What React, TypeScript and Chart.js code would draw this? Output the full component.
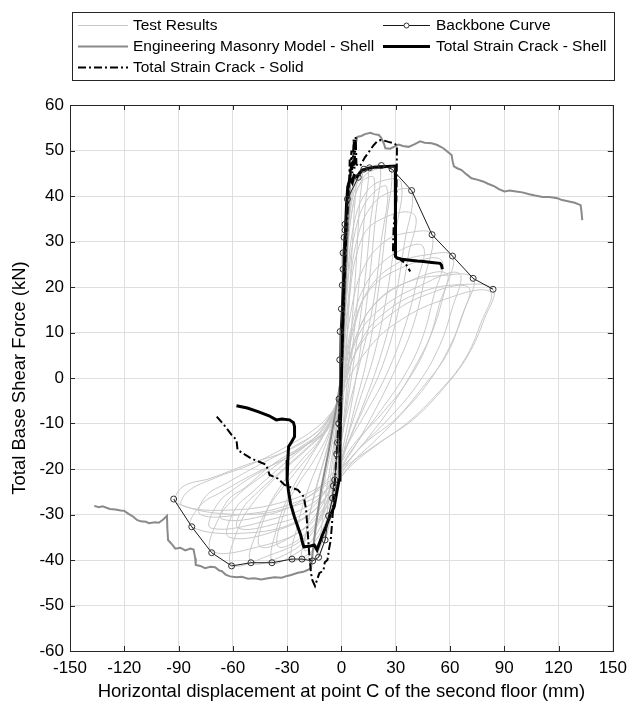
import React, { useEffect, useRef } from "react";
import { Chart, registerables } from "chart.js";

Chart.register(...registerables);

// ---------- axes ----------
const xTickValues = [-150, -120, -90, -60, -30, 0, 30, 60, 90, 120, 150];
const yTickValues = [-60, -50, -40, -30, -20, -10, 0, 10, 20, 30, 40, 50, 60];
const xTitle = "Horizontal displacement at point C of the second floor (mm)";
const yTitle = "Total Base Shear Force (kN)";

const seriesLabels = [
  "Test Results",
  "Backbone Curve",
  "Engineering Masonry Model - Shell",
  "Total Strain Crack - Shell",
  "Total Strain Crack - Solid",
];

// ---------- test results (hysteresis cycles, [x mm, y kN]) ----------
const testCycle01 = [[-1,-6],[0,5],[1,18],[2,30],[3,39],[2.5,30],[1.5,15],[0,0],[-1.5,-12],[-3.5,-22],[-6,-30],[-5,-24],[-3.5,-15],[-2,-6],[0,3]];
const testCycle02 = [[-1,-5],[0,5],[1.5,20],[3,32],[5,40],[8,44],[7,36],[5,22],[3,8],[1,-5],[-2,-18],[-5,-28],[-9,-35.6],[-8,-30],[-6,-22],[-3,-12],[-1,-3],[0.5,6]];
const testCycle03 = [[-1,-4],[0.5,8],[2,24],[4,36],[7,43],[11.5,46],[10,38],[8,24],[5,8],[2,-6],[-2,-20],[-6,-31],[-12.6,-39.4],[-11,-33],[-8,-24],[-4,-14],[-1.5,-5],[0.5,5]];
const testCycle04 = [[-1.5,-6],[0.5,8],[2.5,26],[5,38],[9,44],[14.6,46],[13,37],[10,22],[6,6],[2,-8],[-3,-22],[-8,-33],[-15.9,-40],[-14,-33],[-10,-24],[-5,-14],[-2,-5],[0.5,5]];
const testCycle05 = [[-2,-8],[0,5],[2.5,24],[5,37],[10,44],[15,46],[21.4,46.5],[19,36],[15,20],[10,5],[5,-7],[0,-17],[-5,-27],[-12,-36],[-21.8,-40],[-19,-33],[-14,-24],[-8,-16],[-3,-8],[0,1]];
const testCycle06 = [[-2,-8],[0.5,6],[3,24],[6,37],[12,44],[20,46],[27.4,46],[25,35],[20,18],[14,4],[7,-7],[1,-17],[-5,-28],[-14,-37],[-27.3,-40],[-24,-32],[-18,-24],[-10,-16],[-4,-9],[0,-1]];
const testCycle07 = [[-3,-10],[0,2],[3,20],[7,34],[14,41],[24,43.5],[33,43],[30,32],[25,18],[18,5],[10,-5],[2,-15],[-5,-26],[-15,-35],[-27,-39],[-38.4,-40.5],[-35,-32],[-28,-25],[-18,-18],[-9,-12],[-3,-6],[0,1]];
const testCycle08 = [[-3,-9],[0,1],[4,18],[9,31],[17,38],[28,41],[38.8,41],[35,30],[29,16],[21,4],[12,-6],[3,-15],[-5,-25],[-16,-34],[-32,-39],[-50,-40.5],[-46,-33],[-38,-27],[-26,-21],[-14,-15],[-5,-9],[0,-2]];
const testCycle09 = [[-4,-10],[0,-1],[5,14],[12,24],[24,30],[38,32],[50,31.5],[46,22],[40,12],[31,3],[20,-6],[9,-14],[0,-20],[-8,-28],[-20,-35],[-40,-39],[-60.7,-41],[-57,-33],[-48,-27],[-34,-21],[-20,-16],[-8,-11],[-1,-4]];
const testCycle10 = [[-4,-10],[1,0],[7,12],[16,20],[30,25],[46,27],[61.4,26.8],[57,19],[50,10],[40,2],[28,-6],[15,-13],[3,-19],[-6,-26],[-20,-33],[-45,-37],[-71.7,-38],[-68,-31],[-58,-26],[-42,-21],[-25,-16],[-10,-12],[-2,-5]];
const testCycle11 = [[-5,-11],[1,-1],[9,10],[20,17],[36,21],[55,22.5],[72.8,22],[68,15],[60,7],[48,-1],[33,-8],[18,-14],[5,-19],[-6,-25],[-22,-31],[-50,-34],[-82.7,-32.7],[-78,-28],[-66,-25],[-48,-21],[-28,-17],[-12,-12],[-3,-6]];
const testCycle12 = [[-5,-11],[2,-1],[12,9],[26,15],[45,19],[65,20.5],[83.8,19.5],[79,13],[70,5],[57,-2],[40,-9],[22,-14],[6,-19],[-6,-24],[-25,-28],[-55,-30],[-91,-27.5],[-88,-24],[-72,-22],[-52,-19],[-30,-16],[-14,-12],[-4,-7]];
const testCycle13 = [[-3,-10],[0,0],[3,18],[7,31],[14,39],[25,42],[22,30],[17,15],[10,3],[3,-8],[-3,-18],[-10,-29],[-22,-35],[-35,-37],[-32,-30],[-25,-24],[-15,-18],[-7,-12],[-2,-5]];
const testCycle14 = [[-4,-11],[0,-2],[6,12],[14,21],[28,27],[45,29],[41,20],[34,10],[24,0],[13,-8],[3,-15],[-6,-23],[-18,-29],[-36,-32],[-57,-33],[-55,-29],[-46,-25],[-32,-20],[-18,-15],[-7,-11],[-1,-4]];
const testCycle15 = [[-5,-11],[1,-2],[8,9],[18,16],[36,21],[58,23],[54,16],[47,7],[36,-1],[22,-8],[8,-14],[-3,-20],[-18,-26],[-40,-30],[-66,-31],[-63,-27],[-53,-24],[-38,-19],[-22,-15],[-9,-11],[-2,-5]];
const testCycle16 = [[-5,-11],[1,-2],[10,7],[24,13],[45,18],[70,20],[66,13],[58,5],[45,-2],[30,-9],[14,-14],[2,-19],[-10,-24],[-30,-28],[-55,-30],[-78,-30],[-75,-26],[-63,-23],[-45,-19],[-26,-15],[-11,-11],[-3,-6]];
const testCycle17 = [[-5,-11],[2,-2],[14,6],[30,12],[55,17],[82,19],[77,12],[68,4],[54,-3],[36,-10],[18,-15],[4,-19],[-8,-23],[-30,-27],[-60,-29],[-88,-28],[-85,-25],[-70,-22],[-50,-19],[-30,-15],[-14,-11],[-4,-7]];
const testCycle18 = [[-3,-9],[0,0],[4,16],[9,28],[18,34],[40,36],[37,27],[31,14],[23,3],[13,-6],[4,-14],[-4,-22],[-14,-30],[-28,-35],[-45,-37],[-42,-30],[-34,-24],[-22,-18],[-11,-13],[-4,-7]];
const testCycle19 = [[-4,-10],[1,-1],[7,11],[15,19],[32,24],[55,26],[51,18],[44,8],[34,0],[22,-7],[9,-14],[-1,-20],[-12,-28],[-32,-33],[-62,-35],[-59,-29],[-49,-25],[-35,-20],[-20,-15],[-8,-11],[-2,-5]];
const testCycle20 = [[-5,-11],[1,-2],[9,9],[21,15],[42,20],[65,23],[61,15],[53,6],[41,-2],[26,-9],[11,-15],[0,-20],[-14,-27],[-38,-31],[-72,-33],[-69,-28],[-58,-24],[-42,-20],[-24,-16],[-10,-11],[-3,-6]];
const testCycle21 = [[-2,-7],[0.5,6],[2.5,24],[6,37],[11,43],[18,44],[16,34],[12,18],[7,4],[2,-9],[-3,-21],[-9,-32],[-20,-38],[-18,-31],[-13,-23],[-7,-14],[-2,-6],[0,2]];

const testCycles = [
  testCycle01, testCycle02, testCycle03, testCycle04, testCycle05, testCycle06,
  testCycle07, testCycle08, testCycle09, testCycle10, testCycle11, testCycle12,
  testCycle13, testCycle14, testCycle15, testCycle16, testCycle17, testCycle18,
  testCycle19, testCycle20, testCycle21,
];

// ---------- backbone curve ----------
const backbone = [[-92.7,-26.6],[-82.7,-32.7],[-71.7,-38.4],[-60.7,-41.3],[-50.0,-40.6],[-38.4,-40.6],[-27.3,-39.8],[-21.8,-39.8],[-15.9,-40.2],[-12.6,-39.4],[-9.0,-35.6],[-7.1,-30.3],[-4.9,-26.4],[-4.4,-23.7],[-3.7,-22.4],[-2.6,-16.7],[-2.2,-14.2],[-1.5,-10.0],[-1.3,-4.6],[-0.9,4.0],[-0.7,10.2],[0.0,15.2],[0.5,20.4],[0.9,23.9],[0.9,27.5],[1.5,30.9],[2.0,32.5],[2.0,33.8],[3.3,39.3],[9.3,44.1],[12.4,45.9],[15.5,46.2],[22.1,46.7],[28.0,45.9],[38.8,41.2],[50.1,31.5],[61.4,26.8],[72.8,21.9],[83.8,19.5]];

// ---------- Engineering Masonry Model - Shell ----------
const emmShell = [[-136.6,-28.1],[-134,-28.4],[-132,-28.2],[-128,-28.8],[-124.8,-28.9],[-122,-29.1],[-120,-29.2],[-117.4,-29.9],[-115,-30.5],[-113,-31.2],[-111,-31.5],[-108,-31.6],[-106.4,-31.9],[-103,-31.7],[-100.9,-31.8],[-98.5,-31.1],[-96.4,-30.3],[-96.2,-33],[-95.8,-35.6],[-93.5,-36.6],[-91.8,-37.5],[-89,-37.3],[-86.3,-37.9],[-83.5,-37.5],[-81.7,-37.7],[-80.8,-39.6],[-80.5,-41.1],[-78,-41.3],[-75.3,-41.8],[-72.5,-41.5],[-69.8,-41.6],[-67.5,-42.3],[-66.2,-42.4],[-64,-43.2],[-61.6,-43.6],[-58,-43.8],[-55,-43.7],[-51.6,-44.1],[-48,-44],[-44.3,-44.3],[-40.6,-44],[-37,-43.8],[-33,-43.9],[-30,-43.5],[-27.8,-43.3],[-24,-42.8],[-21,-42.6],[-18.7,-42.2],[-16.8,-41.8],[-15.8,-38],[-14,-32],[-11,-24],[-7,-16],[-3.5,-8],[-1,-2],[0,0],[1,8],[2,18],[3,28],[4,37],[5,44],[6.5,49],[8.8,53],[11,53.2],[13,53.6],[16.1,53.9],[18,53.6],[20.7,53.4],[22,52.8],[23.4,51.6],[24.3,50.5],[27,50.4],[29,50.8],[31.6,51.3],[34,51],[37.1,50.8],[40,51.3],[43.5,52],[46,51.7],[49.9,51.6],[53,51.2],[56.3,50.5],[58.5,49.8],[60.9,49],[61.5,47.6],[62.2,46.5],[64,46.1],[66.4,45.7],[69,44.8],[71.9,43.9],[75,43.6],[78.3,43.2],[81,42.7],[84.6,42.1],[87,41.5],[90.1,41],[93,41.2],[96.5,41],[100,40.8],[103.8,40.4],[107,40.1],[111.2,39.8],[115,39.8],[119.4,39.5],[122,39.1],[125.8,38.8],[129,38.5],[132.2,38],[132.7,36.5],[133.1,34.7]];

// ---------- Total Strain Crack - Shell ----------
const tscShell = [[-58,-6.1],[-52,-6.6],[-46.1,-7.4],[-40,-8.3],[-36,-9.2],[-33,-9],[-28.7,-9.2],[-26.5,-9.8],[-25.9,-10.7],[-25.9,-12.9],[-27.5,-14],[-29.2,-15.1],[-29.6,-18],[-30,-22.4],[-29.2,-25],[-28.1,-27.6],[-26,-30.5],[-24.1,-32.7],[-22.5,-34.5],[-21.5,-36.2],[-20.8,-37.1],[-18,-37],[-15,-36.7],[-13.5,-37.8],[-12.2,-36.4],[-10.5,-34.5],[-8.6,-32.7],[-6.5,-30.5],[-4,-28.3],[-2.5,-25],[-1.3,-22.4],[-0.8,-15],[-0.4,-7.8],[0,-0.4],[0.5,10],[1.2,20],[2,30],[2.8,38],[3.5,42],[4.8,43.9],[6,43],[7,44.5],[8.5,44.2],[10,45],[11.5,45.7],[15,46.1],[18,46.3],[21.6,46.4],[25,46.5],[29.8,46.6],[30,40],[29.9,33],[29.8,26.7],[31,26.3],[33.5,26.1],[38,25.9],[42,25.7],[45.4,25.6],[50,25.4],[54.5,25.2],[55.3,24.8],[55.8,23.9]];

// ---------- Total Strain Crack - Solid ----------
const tscSolid = [[-68.9,-8.5],[-64.5,-10.5],[-60.7,-12.5],[-58,-13.6],[-57.4,-15.8],[-53.5,-16.8],[-49.8,-17.7],[-45.5,-18.4],[-41.5,-19.1],[-39.7,-21.3],[-35.1,-22.1],[-31.4,-23.5],[-27.5,-24.1],[-24.1,-24.6],[-20.8,-26.1],[-19.5,-29],[-18.7,-33.4],[-17.7,-39.2],[-16.8,-42.9],[-16,-44.5],[-14.6,-45.7],[-13.5,-44.4],[-12.2,-42.9],[-9.9,-42.3],[-9.2,-40.5],[-7.7,-40],[-6.8,-37.5],[-5.9,-35.6],[-4.9,-30.5],[-3.5,-22],[-2,-12],[-0.5,-3],[0,0],[0.8,10],[1.8,22],[2.8,32],[3.6,38],[4.2,42],[4.6,48],[5,44],[5.5,50],[6,45],[6.8,52.5],[7.2,46],[7.9,53],[8.3,47],[9.5,46.5],[10.6,46.8],[13,48.5],[15.2,49.7],[17.5,51],[19.7,52],[21.5,52.3],[23.4,52.2],[26,51.9],[28,51.7],[30.7,51.2],[30.6,46],[30.4,39.1],[29.5,36],[28.9,33.3],[28.6,30],[28.5,27.8],[29.5,27],[30.7,26.7],[33,25.9],[35.3,25.2],[36.8,24.3],[38,23.4]];

// ---------- styling ----------
const FONT = '"Liberation Sans", Arial, Helvetica, sans-serif';
const AXIS_COLOR = "#262626";
const GRID_COLOR = "#dfdfdf";
const TEST_COLOR = "#c8c8c8";
const EMM_COLOR = "#8a8a8a";
const DASH_DOT = [8, 3, 2, 3];

const toXY = (pts: number[][]) => pts.map(([x, y]) => ({ x, y }));

const frameTicksPlugin = {
  id: "frameTicks",
  afterDraw(chart: any) {
    const { ctx, chartArea: a, scales } = chart;
    const xs = scales.x;
    const ys = scales.y;
    ctx.save();
    ctx.strokeStyle = AXIS_COLOR;
    ctx.lineWidth = 1;
    ctx.beginPath();
    const L = 5;
    xTickValues.forEach((v) => {
      const px = Math.round(xs.getPixelForValue(v)) + 0.5;
      ctx.moveTo(px, a.bottom);
      ctx.lineTo(px, a.bottom - L);
      ctx.moveTo(px, a.top);
      ctx.lineTo(px, a.top + L);
    });
    yTickValues.forEach((v) => {
      const py = Math.round(ys.getPixelForValue(v)) + 0.5;
      ctx.moveTo(a.left, py);
      ctx.lineTo(a.left + L, py);
      ctx.moveTo(a.right, py);
      ctx.lineTo(a.right - L, py);
    });
    ctx.stroke();
    ctx.strokeRect(Math.round(a.left) + 0.5, Math.round(a.top) + 0.5, Math.round(a.right - a.left), Math.round(a.bottom - a.top));
    ctx.restore();
  },
};

const boxLegendPlugin = {
  id: "boxLegend",
  afterDraw(chart: any) {
    const { ctx } = chart;
    const bx = 72, by = 12, bw = 542, bh = 68;
    ctx.save();
    ctx.fillStyle = "#ffffff";
    ctx.fillRect(bx, by, bw, bh);
    ctx.strokeStyle = AXIS_COLOR;
    ctx.lineWidth = 1;
    ctx.strokeRect(bx + 0.5, by + 0.5, bw, bh);

    const rows = [25, 46, 67];
    const cols = [{ x0: 78, x1: 128, tx: 133 }, { x0: 383, x1: 430, tx: 436 }];
    const layout = [
      { label: seriesLabels[0], r: 0, c: 0, color: TEST_COLOR, w: 1, dash: [] as number[], marker: false },
      { label: seriesLabels[1], r: 0, c: 1, color: "#1a1a1a", w: 1, dash: [] as number[], marker: true },
      { label: seriesLabels[2], r: 1, c: 0, color: EMM_COLOR, w: 2, dash: [] as number[], marker: false },
      { label: seriesLabels[3], r: 1, c: 1, color: "#000000", w: 3, dash: [] as number[], marker: false },
      { label: seriesLabels[4], r: 2, c: 0, color: "#000000", w: 2, dash: DASH_DOT, marker: false },
    ];
    ctx.font = `15.5px ${FONT}`;
    ctx.textBaseline = "middle";
    ctx.textAlign = "left";
    layout.forEach((e) => {
      const y = rows[e.r];
      const col = cols[e.c];
      ctx.beginPath();
      ctx.setLineDash(e.dash);
      ctx.strokeStyle = e.color;
      ctx.lineWidth = e.w;
      ctx.moveTo(col.x0, y + 0.5);
      ctx.lineTo(col.x1, y + 0.5);
      ctx.stroke();
      ctx.setLineDash([]);
      if (e.marker) {
        ctx.beginPath();
        ctx.fillStyle = "#ffffff";
        ctx.arc((col.x0 + col.x1) / 2, y + 0.5, 2.5, 0, Math.PI * 2);
        ctx.fill();
        ctx.strokeStyle = "#333333";
        ctx.lineWidth = 1;
        ctx.stroke();
      }
      ctx.fillStyle = "#000000";
      ctx.fillText(e.label, col.tx, y + 1);
    });
    ctx.restore();
  },
};

export default function App() {
  const canvasRef = useRef<HTMLCanvasElement | null>(null);

  useEffect(() => {
    if (!canvasRef.current) return;

    const testDatasets = testCycles.map((cyc, i) => ({
      label: i === 0 ? seriesLabels[0] : `${seriesLabels[0]} ${i + 1}`,
      data: toXY(cyc),
      borderColor: TEST_COLOR,
      borderWidth: 1,
      pointRadius: 0,
      tension: 0.4,
      showLine: true,
      fill: false,
      order: 20 + i,
    }));

    const chart = new Chart(canvasRef.current, {
      type: "scatter",
      data: {
        datasets: [
          ...testDatasets,
          {
            label: seriesLabels[2],
            data: toXY(emmShell),
            borderColor: EMM_COLOR,
            borderWidth: 2,
            pointRadius: 0,
            showLine: true,
            tension: 0,
            order: 5,
          },
          {
            label: seriesLabels[4],
            data: toXY(tscSolid),
            borderColor: "#000000",
            borderWidth: 2,
            borderDash: DASH_DOT,
            pointRadius: 0,
            showLine: true,
            tension: 0,
            order: 4,
          },
          {
            label: seriesLabels[3],
            data: toXY(tscShell),
            borderColor: "#000000",
            borderWidth: 3,
            pointRadius: 0,
            showLine: true,
            tension: 0,
            order: 3,
          },
          {
            label: seriesLabels[1],
            data: toXY(backbone),
            borderColor: "#1a1a1a",
            borderWidth: 1,
            pointRadius: 3,
            pointBorderWidth: 1,
            pointBorderColor: "#333333",
            pointBackgroundColor: "rgba(255,255,255,0)",
            showLine: true,
            tension: 0,
            order: 1,
          },
        ],
      },
      options: {
        responsive: false,
        animation: false,
        devicePixelRatio: 1,
        layout: { padding: { left: 0, top: 105, right: 17, bottom: 0 } },
        plugins: {
          legend: { display: false },
          tooltip: { enabled: false },
        },
        scales: {
          x: {
            type: "linear",
            min: -150,
            max: 150,
            afterBuildTicks: (s: any) => {
              s.ticks = xTickValues.map((v) => ({ value: v }));
            },
            afterFit: (s: any) => {
              s.height = 54;
            },
            ticks: {
              autoSkip: false,
              maxRotation: 0,
              padding: 7,
              color: "#000000",
              font: { family: FONT, size: 17 },
            },
            grid: { color: GRID_COLOR, lineWidth: 1, drawTicks: false },
            border: { display: false },
            title: {
              display: true,
              text: xTitle,
              color: "#000000",
              font: { family: FONT, size: 18.5 },
              padding: { top: 0, bottom: 2 },
            },
          },
          y: {
            type: "linear",
            min: -60,
            max: 60,
            afterBuildTicks: (s: any) => {
              s.ticks = yTickValues.map((v) => ({ value: v }));
            },
            afterFit: (s: any) => {
              s.width = 70;
            },
            ticks: {
              autoSkip: false,
              padding: 6,
              color: "#000000",
              font: { family: FONT, size: 17 },
            },
            grid: { color: GRID_COLOR, lineWidth: 1, drawTicks: false },
            border: { display: false },
            title: {
              display: true,
              text: yTitle,
              color: "#000000",
              font: { family: FONT, size: 18.5 },
              padding: { top: 9, bottom: 0 },
            },
          },
        },
      },
      plugins: [frameTicksPlugin, boxLegendPlugin],
    });

    return () => chart.destroy();
  }, []);

  return (
    <div style={{ position: "fixed", left: 0, top: 0, width: 634, height: 705, background: "#ffffff" }}>
      <canvas ref={canvasRef} width={634} height={705} style={{ display: "block", width: 634, height: 705 }} />
    </div>
  );
}
